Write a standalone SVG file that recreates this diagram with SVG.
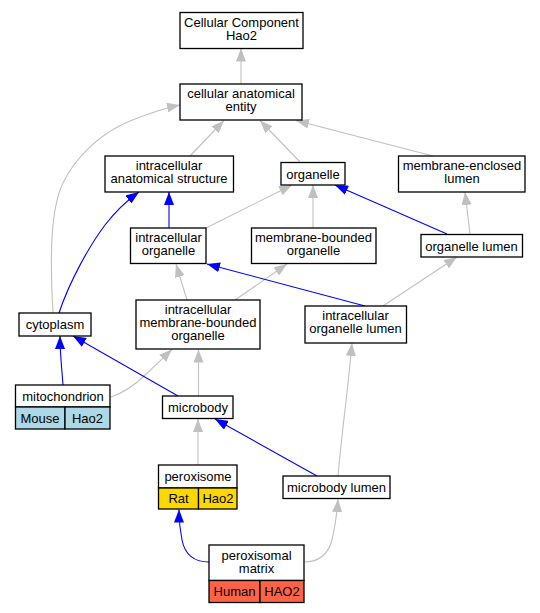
<svg xmlns="http://www.w3.org/2000/svg" width="540" height="613" viewBox="0 0 540 613">
<defs>
<style>
text{font-family:"Liberation Sans",Arial,sans-serif;font-size:13px;fill:#000;text-anchor:middle}
.n rect{fill:#fff;stroke:#000;stroke-width:1.3}
.g{fill:none;stroke:#c0c0c0;stroke-width:1.1;marker-end:url(#ag)}
.b{fill:none;stroke:#0000ff;stroke-width:1.1;marker-end:url(#ab)}
</style>
<marker id="ag" markerUnits="userSpaceOnUse" markerWidth="13" markerHeight="10" viewBox="0 0 13 10" refX="13" refY="5" orient="auto"><path d="M0,0L13,5L0,10z" fill="#c0c0c0"/></marker>
<marker id="ab" markerUnits="userSpaceOnUse" markerWidth="13" markerHeight="10" viewBox="0 0 13 10" refX="13" refY="5" orient="auto"><path d="M0,0L13,5L0,10z" fill="#0000ff"/></marker>
</defs>
<rect width="540" height="613" fill="#fff"/>
<g id="edges">
<path class="g" d="M241,84L241,48.5"/>
<path class="g" d="M190,156L224,120.5"/>
<path class="g" d="M300,162L260,120.5"/>
<path class="g" d="M433,156L296,120.5"/>
<path class="g" d="M53,313C50,260 50,210 63,183C75,158 100,133 130,121C150,113 165,108 180,105"/>
<path class="b" d="M59,313C70,280 90,245 105,225C115,212 125,202 139,192"/>
<path class="b" d="M169,228L169,192"/>
<path class="g" d="M206,228L292,185"/>
<path class="g" d="M313,228L313,185"/>
<path class="b" d="M447,234L335,185"/>
<path class="g" d="M470,234L465,192"/>
<path class="g" d="M187,300L176,264"/>
<path class="g" d="M235,300L287,264"/>
<path class="b" d="M365,306L207,264"/>
<path class="g" d="M383,306L457,257"/>
<path class="b" d="M63,385C62,370 60,355 60,336"/>
<path class="g" d="M111,397C125,392 135,385 145,375C155,366 163,358 172,349.5"/>
<path class="b" d="M178,396L73,336"/>
<path class="g" d="M198.5,396L198.5,349.5"/>
<path class="g" d="M198,465L198,419"/>
<path class="b" d="M317,476L215,419"/>
<path class="g" d="M338,476C342,430 348,390 352,343"/>
<path class="b" d="M209,562C195,562 185,555 182,540C180,530 179,520 179,509.5"/>
<path class="g" d="M304,562C318,562 328,555 332,540C335,527 337,515 338,499"/>
</g>
<g id="cellular_component_hao2" class="n"><rect x="180" y="12.5" width="123" height="36"/><text x="241.5" y="26.5">Cellular Component</text><text x="241.5" y="39.5">Hao2</text></g>
<g id="cellular_anatomical_entity" class="n"><rect x="180" y="84" width="122" height="36"/><text x="241" y="98">cellular anatomical</text><text x="241" y="111">entity</text></g>
<g id="intracellular_anatomical_structure" class="n"><rect x="105" y="156" width="128.5" height="36"/><text x="169" y="169.5">intracellular</text><text x="169" y="182.5">anatomical structure</text></g>
<g id="organelle" class="n"><rect x="281" y="162.5" width="64" height="22.5"/><text x="313" y="178.5">organelle</text></g>
<g id="membrane_enclosed_lumen" class="n"><rect x="398.5" y="156" width="126.5" height="36"/><text x="462" y="169.5">membrane-enclosed</text><text x="462" y="182.5">lumen</text></g>
<g id="intracellular_organelle" class="n"><rect x="130.5" y="228" width="75.5" height="35.5"/><text x="168.5" y="241.5">intracellular</text><text x="168.5" y="254.5">organelle</text></g>
<g id="membrane_bounded_organelle" class="n"><rect x="251.5" y="228" width="124.5" height="35.5"/><text x="313.5" y="241.5">membrane-bounded</text><text x="313.5" y="254.5">organelle</text></g>
<g id="organelle_lumen" class="n"><rect x="421" y="234.5" width="101.5" height="22.5"/><text x="471.5" y="250.5">organelle lumen</text></g>
<g id="cytoplasm" class="n"><rect x="19" y="313" width="72" height="23"/><text x="55" y="329">cytoplasm</text></g>
<g id="intracellular_membrane_bounded_organelle" class="n"><rect x="136" y="300" width="124" height="49"/><text x="198" y="314">intracellular</text><text x="198" y="327">membrane-bounded</text><text x="198" y="340">organelle</text></g>
<g id="intracellular_organelle_lumen" class="n"><rect x="305" y="306" width="101.5" height="37"/><text x="355.5" y="320">intracellular</text><text x="355.5" y="333">organelle lumen</text></g>
<g id="mitochondrion" class="n"><rect x="15.5" y="385" width="94.5" height="22"/><rect x="15.5" y="407" width="49.5" height="22" style="fill:#add8e6"/><rect x="65" y="407" width="45" height="22" style="fill:#add8e6"/><text x="63" y="400.5">mitochondrion</text><text x="40" y="422.5">Mouse</text><text x="87.5" y="422.5">Hao2</text></g>
<g id="microbody" class="n"><rect x="162.5" y="396" width="70.5" height="22.5"/><text x="198" y="412">microbody</text></g>
<g id="peroxisome" class="n"><rect x="158.5" y="465" width="78.5" height="23"/><rect x="158.5" y="488" width="40" height="21" style="fill:#ffd700"/><rect x="198.5" y="488" width="38.5" height="21" style="fill:#ffd700"/><text x="198" y="481">peroxisome</text><text x="178.5" y="503">Rat</text><text x="218" y="503">Hao2</text></g>
<g id="microbody_lumen" class="n"><rect x="283" y="476" width="107" height="22.5"/><text x="336.5" y="492">microbody lumen</text></g>
<g id="peroxisomal_matrix" class="n"><rect x="209" y="545" width="95" height="35.5"/><rect x="209" y="580.5" width="51" height="22" style="fill:#ff6347"/><rect x="260" y="580.5" width="44" height="22" style="fill:#ff6347"/><text x="256.5" y="559.5">peroxisomal</text><text x="256.5" y="572.5">matrix</text><text x="234.5" y="596">Human</text><text x="282" y="596">HAO2</text></g>
</svg>
